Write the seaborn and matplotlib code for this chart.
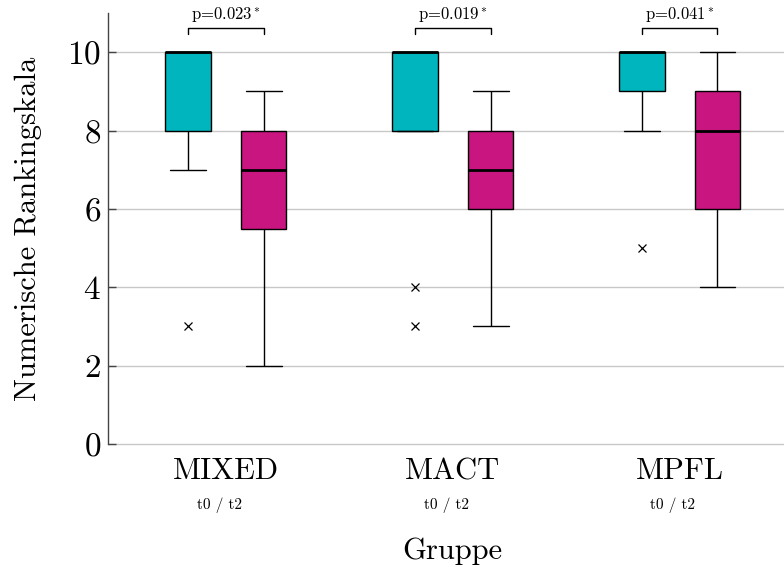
import numpy as np
import pandas as pd
import seaborn as sns
import matplotlib
matplotlib.use("Agg")
import matplotlib.pyplot as plt
from matplotlib.transforms import blended_transform_factory

# ---- data ----
groups = ["MIXED", "MACT", "MPFL"]
times = ["t0", "t2"]
mixed_t0 = [3, 7, 8, 9, 10, 10, 10, 10, 10]
mixed_t2 = [2, 4, 5, 6, 7, 7, 7, 8, 8, 8, 9]
mact_t0 = [3, 4, 8, 9, 10, 10, 10, 10, 10]
mact_t2 = [3, 5, 6, 7, 7, 8, 8, 9, 9]
mpfl_t0 = [5, 8, 9, 10, 10, 10, 10, 10, 10]
mpfl_t2 = [4, 5, 6, 7, 8, 9, 9, 10, 10]
p_values = ["0.023", "0.019", "0.041"]
sub_label = "t0 / t2"

series = {
    ("MIXED", "t0"): mixed_t0, ("MIXED", "t2"): mixed_t2,
    ("MACT", "t0"): mact_t0, ("MACT", "t2"): mact_t2,
    ("MPFL", "t0"): mpfl_t0, ("MPFL", "t2"): mpfl_t2,
}
rows = []
for (g, t), vals in series.items():
    for v in vals:
        rows.append({"Gruppe": g, "Zeit": t, "Wert": v})
df = pd.DataFrame(rows)

teal = "#00B5BD"
magenta = "#C8157F"

sns.set_theme(style="white")
plt.rcParams["font.family"] = ["cmr10", "DejaVu Serif"]
plt.rcParams["mathtext.fontset"] = "cm"
plt.rcParams["axes.formatter.use_mathtext"] = True
plt.rcParams["text.color"] = "black"
plt.rcParams["axes.labelcolor"] = "black"
plt.rcParams["xtick.color"] = "black"
plt.rcParams["ytick.color"] = "black"

fig = plt.figure(figsize=(7.84, 5.67), dpi=100)
ax = fig.add_axes([108 / 784, 123 / 567, 1 - 108 / 784, 431 / 567])

kw = dict(data=df, x="Gruppe", y="Wert", hue="Zeit", order=groups, hue_order=times,
          palette=[teal, magenta], saturation=1, width=0.667, gap=0.4,
          linecolor="black", linewidth=1,
          flierprops=dict(marker="x", markeredgecolor="black", markersize=5.5, markeredgewidth=0.9),
          medianprops=dict(linewidth=2, color="black"),
          legend=False, ax=ax)
try:
    sns.boxplot(**kw, capwidths=0.158)
except TypeError:
    ax.cla()
    sns.boxplot(**kw)

ax.set_ylim(0, 11)
ax.set_xlim(-0.52, 2.46)
ax.set_yticks([0, 2, 4, 6, 8, 10])
ax.yaxis.grid(True, color="#c8c8c8", linewidth=1)
ax.xaxis.grid(False)
ax.set_axisbelow(True)
for gl in ax.get_ygridlines():
    gl.set_clip_on(False)
for s in ["top", "right", "bottom"]:
    ax.spines[s].set_visible(False)
ax.spines["left"].set_color("#444444")
ax.spines["left"].set_linewidth(1)
ax.tick_params(axis="y", direction="in", length=6, color="#444444", width=1,
               labelsize=24, pad=5, left=True, labelcolor="black")
ax.tick_params(axis="x", length=0, labelsize=22, pad=10, labelcolor="black")

ax.set_ylabel("Numerische Rankingskala", fontsize=22, labelpad=18, color="black")
ax.set_xlabel("Gruppe", fontsize=22, color="black")
ax.xaxis.set_label_coords(0.509, -0.216)

trans = blended_transform_factory(ax.transData, ax.transAxes)
for i, p in enumerate(p_values):
    ax.text(i - 0.03, -0.1415, sub_label, transform=trans, ha="center", va="center",
            fontsize=11, color="black")
    x0, x1 = i - 0.1667, i + 0.1667
    ax.plot([x0, x0, x1, x1], [10.46, 10.61, 10.61, 10.46], color="black", lw=1, clip_on=False)
    ax.text(i, 10.7, f"p={p}$^*$", ha="center", va="bottom", fontsize=12, color="black")

fig.savefig("out.png", dpi=100)
